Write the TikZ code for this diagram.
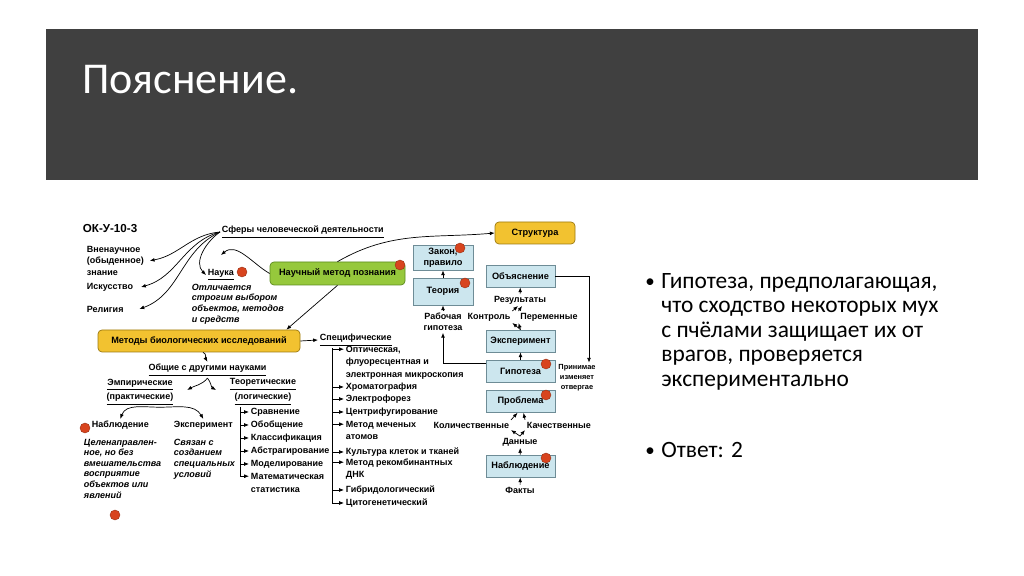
\documentclass[tikz,border=0pt]{standalone}
\usepackage{fontspec}
\setmainfont{Liberation Sans}
\newfontfamily\slidefont{Carlito}
\usetikzlibrary{arrows.meta}
\definecolor{headgray}{HTML}{404040}
\definecolor{boxblue}{HTML}{CCE6EE}
\definecolor{boxedge}{HTML}{6E8C96}
\definecolor{methgold}{HTML}{F2C230}
\definecolor{goldedge}{HTML}{9C7A10}
\definecolor{methgreen}{HTML}{96C83C}
\definecolor{greenedge}{HTML}{5C8A1E}
\definecolor{dotred}{HTML}{D8441E}

\begin{document}
\begin{tikzpicture}[x=0.5pt, y=-0.5pt, >={Latex[length=2.4pt,width=1.9pt]}, line width=0.35pt,
    txt/.style={font=\fontsize{4.5}{6.2}\selectfont\bfseries, inner sep=0.8pt, align=left},
    note/.style={font=\fontsize{4.5}{5.3}\selectfont\bfseries\itshape, inner sep=0.8pt, align=left, anchor=north west},
    bluebox/.style={draw=boxedge, fill=boxblue, minimum width=34.5pt, minimum height=11pt, font=\fontsize{4.6}{5.4}\selectfont\bfseries, align=center, inner sep=0.5pt},
    goldbox/.style={draw=goldedge, fill=methgold, rounded corners=2pt, minimum height=11pt, font=\fontsize{4.6}{5.4}\selectfont\bfseries},
    greenbox/.style={draw=greenedge, fill=methgreen, rounded corners=2pt, minimum width=67.5pt, minimum height=11.5pt, font=\fontsize{4.6}{5.4}\selectfont\bfseries},
    reddot/.style={circle, fill=dotred, draw=dotred!70!black, line width=0.2pt, minimum size=5pt, inner sep=0pt},
    slide/.style={font=\slidefont\fontsize{11.7}{12.25}\selectfont, inner sep=0pt, align=left}]

    \useasboundingbox (0,0) rectangle (1024,576);
    \fill[headgray] (46,29) rectangle (978,180);
    \node[font=\slidefont\fontsize{22}{26}\selectfont, text=white, anchor=base west, inner sep=0pt] (title) at (82,94) {Пояснение.};

    \node[slide, anchor=base west, font=\slidefont\fontsize{9.5}{12}\selectfont] (bul1) at (645,288) {•};
    \node[slide, anchor=north west] (hyptext) at (661,273) {Гипотеза, предполагающая,\\что сходство некоторых мух\\с пчёлами защищает их от\\врагов, проверяется\\экспериментально};
    \node[slide, anchor=base west, font=\slidefont\fontsize{9.5}{12}\selectfont] (bul2) at (645,457) {•};
    \node[slide, anchor=base west] (answer) at (661,458) {Ответ: 2};

    \node[txt, font=\fontsize{5.8}{7}\selectfont\bfseries, anchor=west] (okcode) at (81,229) {ОК-У-10-3};
    \node[txt, anchor=west] (sfery) at (220,232) {\underline{Сферы человеческой деятельности}};
    \node[txt, anchor=north west, font=\fontsize{4.5}{5.8}\selectfont\bfseries] (vnenauch) at (85,244) {Вненаучное\\(обыденное)\\знание};
    \node[txt, anchor=west] (iskus) at (85,287) {Искусство};
    \node[txt, anchor=west] (relig) at (85,309) {Религия};
    \node[txt, anchor=west] (nauka) at (206,275) {\underline{Наука}};
    \node[note] (naukanote) at (190,282) {Отличается\\строгим выбором\\объектов, методов\\и средств};
    \node[greenbox] (nmp) at (337.5,273.5) {Научный метод познания};
    \node[goldbox, minimum width=40pt] (struct) at (535,233) {Структура};
    \node[goldbox, minimum width=101pt] (metody) at (199,341) {Методы биологических исследований};

    \node[txt, anchor=west] (spec) at (318,340) {\underline{Специфические}};
    \node[txt] (obshie) at (207.5,370) {\underline{Общие с другими науками}};
    \node[txt, align=center, font=\fontsize{4.5}{5}\selectfont\bfseries] (empir) at (140,392) {\underline{Эмпирические}\\\underline{(практические)}};
    \node[txt, align=center, font=\fontsize{4.5}{5}\selectfont\bfseries] (teor) at (263,392) {\underline{Теоретические}\\\underline{(логические)}};
    \node[txt, anchor=west] (nabl) at (90,425) {Наблюдение};
    \node[note] (nablnote) at (82,437) {Целенаправлен-\\ное, но без\\вмешательства\\восприятие\\объектов или\\явлений};
    \node[txt, anchor=west] (eksp) at (172,425) {Эксперимент};
    \node[note] (ekspnote) at (172,437) {Связан с\\созданием\\специальных\\условий};

    \node[txt, anchor=west] (sravn) at (249,412) {Сравнение};
    \node[txt, anchor=west] (obob) at (249,425) {Обобщение};
    \node[txt, anchor=west] (klass) at (249,438) {Классификация};
    \node[txt, anchor=west] (abstr) at (249,451) {Абстрагирование};
    \node[txt, anchor=west] (model) at (249,464) {Моделирование};
    \node[txt, anchor=north west, font=\fontsize{4.5}{6.5}\selectfont\bfseries] (matstat) at (249,471) {Математическая\\статистика};

    \node[txt, anchor=north west] (optic) at (344,344) {Оптическая,\\флуоресцентная и\\электронная микроскопия};
    \node[txt, anchor=west] (hromat) at (344,387) {Хроматография};
    \node[txt, anchor=west] (elforez) at (344,399) {Электрофорез};
    \node[txt, anchor=west] (centrif) at (344,412) {Центрифугирование};
    \node[txt, anchor=north west] (mechen) at (344,419) {Метод меченых\\атомов};
    \node[txt, anchor=west] (kultura) at (344,452) {Культура клеток и тканей};
    \node[txt, anchor=north west] (rekomb) at (344,457) {Метод рекомбинантных\\ДНК};
    \node[txt, anchor=west] (gibrid) at (344,490) {Гибридологический};
    \node[txt, anchor=west] (citogen) at (344,503) {Цитогенетический};

    \node[bluebox, minimum width=30pt, minimum height=12.5pt] (zakon) at (443,257.5) {Закон,\\правило};
    \node[bluebox, minimum width=30pt, minimum height=13.5pt] (teoria) at (443,291.5) {Теория};
    \node[txt, align=center, font=\fontsize{4.5}{5.5}\selectfont\bfseries] (rabgip) at (443,322) {Рабочая\\гипотеза};
    \node[bluebox] (obyasn) at (520.5,276) {Объяснение};
    \node[txt] (rezult) at (520,300) {Результаты};
    \node[txt] (kontrol) at (489,317) {Контроль};
    \node[txt] (perem) at (549,317) {Переменные};
    \node[bluebox] (eksper) at (520.5,341) {Эксперимент};
    \node[bluebox] (gipot) at (520.5,371) {Гипотеза};
    \node[txt, align=center, font=\fontsize{3.7}{5}\selectfont\bfseries] (prinim) at (577,378) {Принимае\\изменяет\\отвергае};
    \node[bluebox] (problema) at (520.5,401.5) {Проблема};
    \node[txt, anchor=east] (kolich) at (511,425) {Количественные};
    \node[txt, anchor=west] (kachest) at (525,425) {Качественные};
    \node[txt] (dannye) at (520,442) {Данные};
    \node[bluebox] (nablbox) at (520.5,466) {Наблюдение};
    \node[txt] (fakty) at (520,490) {Факты};

    \node[reddot] (dot1) at (242,272) {};
    \node[reddot] (dot2) at (400,265) {};
    \node[reddot] (dot3) at (460,248) {};
    \node[reddot] (dot4) at (465,283) {};
    \node[reddot] (dot5) at (546,364) {};
    \node[reddot] (dot6) at (546,395) {};
    \node[reddot] (dot7) at (546,458) {};
    \node[reddot] (dot8) at (85,428) {};
    \node[reddot] (dot9) at (115,515) {};

    \draw[->] (sfery.west) to[out=185,in=10] ([xshift=2pt]vnenauch.east);
    \draw[->] (sfery.west) to[out=195,in=15] ([xshift=3pt]iskus.east);
    \draw[->] (sfery.west) to[out=205,in=20] ([xshift=7pt]relig.east);
    \draw[->] (sfery.west) to[out=215,in=135] (nauka.west);
    \draw[->] (nmp.west) to[out=150,in=40] ([yshift=6pt]nauka.north);
    \draw[->] (nmp.north) to[out=30,in=185] (struct.west);
    \draw[->] (nmp.south) -- ([xshift=-7pt]metody.north east);
    \draw[->] (metody.east) -- (spec.west);
    \draw[->] ([xshift=2pt]metody.south) to[out=-20,in=120] (obshie.north);
    \draw[->] (obshie.south) to[out=230,in=30] ([xshift=6pt,yshift=1pt]empir.east);
    \draw[->] (obshie.south) to[out=-50,in=150] ([xshift=-6pt,yshift=1pt]teor.west);
    \draw[->] ([xshift=10pt]empir.south) to[out=180,in=70] (nabl.north);
    \draw[->] ([xshift=10pt]empir.south) to[out=0,in=120] (eksp.north);

    \draw[->] ([xshift=-11.5pt]teor.south) |- (sravn.west);
    \draw[->] ([xshift=-11.5pt]teor.south) |- (obob.west);
    \draw[->] ([xshift=-11.5pt]teor.south) |- (klass.west);
    \draw[->] ([xshift=-11.5pt]teor.south) |- (abstr.west);
    \draw[->] ([xshift=-11.5pt]teor.south) |- (model.west);
    \draw[->] ([xshift=-11.5pt]teor.south) |- ([yshift=-2.6pt]matstat.north west);

    \draw[->] ([xshift=7pt]spec.south west) |- ([yshift=-2.6pt]optic.north west);
    \draw[->] ([xshift=7pt]spec.south west) |- (hromat.west);
    \draw[->] ([xshift=7pt]spec.south west) |- (elforez.west);
    \draw[->] ([xshift=7pt]spec.south west) |- (centrif.west);
    \draw[->] ([xshift=7pt]spec.south west) |- ([yshift=-2.6pt]mechen.north west);
    \draw[->] ([xshift=7pt]spec.south west) |- (kultura.west);
    \draw[->] ([xshift=7pt]spec.south west) |- ([yshift=-2.6pt]rekomb.north west);
    \draw[->] ([xshift=7pt]spec.south west) |- (gibrid.west);
    \draw[->] ([xshift=7pt]spec.south west) |- (citogen.west);

    \draw[->] (teoria) -- (zakon);
    \draw[->] (rabgip) -- (teoria);
    \draw[->] ([yshift=-2pt]gipot.north west) -| (rabgip.south);
    \draw[->] (rezult) -- (obyasn);
    \draw[->] (eksper.north) -- (kontrol.south east);
    \draw[->] (eksper.north) -- (perem.south west);
    \draw[->] (kontrol.north east) -- ([xshift=-1pt]rezult.south);
    \draw[->] (perem.north west) -- ([xshift=1pt]rezult.south);
    \draw[->] (gipot) -- (eksper);
    \draw[->] (obyasn.east) -| ([xshift=6pt]prinim.north);
    \draw[->] (dannye.north) -- (kolich.south east);
    \draw[->] (dannye.north) -- (kachest.south west);
    \draw[->] (kolich.north east) -- ([xshift=-1.5pt]problema.south);
    \draw[->] (kachest.north west) -- ([xshift=1.5pt]problema.south);
    \draw[->] (nablbox) -- (dannye);
    \draw[->] (fakty) -- (nablbox);
\end{tikzpicture}
\end{document}
